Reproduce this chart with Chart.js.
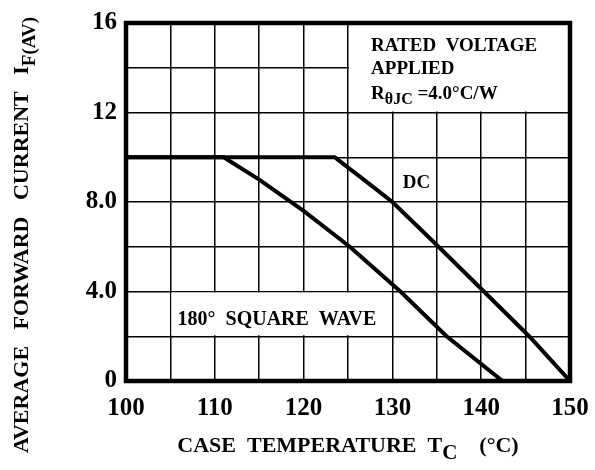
<!DOCTYPE html>
<html><head><meta charset="utf-8">
<script src="https://cdn.jsdelivr.net/npm/chart.js@4.4.1/dist/chart.umd.min.js"></script>
<style>html,body{margin:0;padding:0;background:#fff}</style>
</head><body>
<canvas id="c" width="595" height="470" style="width:595px;height:470px;display:block"></canvas>
<script>
// ---- data ----
const squareWaveT = [100, 111, 115, 120, 125.2, 130.9, 136.1, 142.4];
const squareWaveI = [10, 10, 9.0, 7.6, 6.0, 4.0, 2.0, 0];
const dcT = [100, 123.5, 127.1, 130, 135.2, 140.3, 145.4, 150];
const dcI = [10, 10, 8.9, 8.0, 6.0, 4.0, 2.0, 0];
const xTickValues = [100, 110, 120, 130, 140, 150];
const yTickValues = [0, 4, 8, 12, 16];
const yTickLabels = ['0', '4.0', '8.0', '12', '16'];

const FONT = "'Liberation Serif', 'Times New Roman', serif";

function toPoints(xs, ys) { return xs.map((x, i) => ({ x: x, y: ys[i] })); }

function drawRich(ctx, x, y, parts, align, baseline) {
  ctx.textBaseline = baseline || 'alphabetic';
  let total = 0;
  parts.forEach(p => { ctx.font = 'bold ' + p.size + 'px ' + FONT; p.w = ctx.measureText(p.t).width; total += p.w; });
  let cx = align === 'center' ? x - total / 2 : x;
  parts.forEach(p => {
    ctx.font = 'bold ' + p.size + 'px ' + FONT;
    ctx.textAlign = 'left';
    ctx.fillText(p.t, cx, y + (p.dy || 0));
    cx += p.w;
  });
}

const decor = {
  id: 'decor',
  beforeDatasetsDraw(chart) {
    const { ctx, scales: { x, y } } = chart;
    ctx.save();
    ctx.fillStyle = '#fff';
    let l = x.getPixelForValue(125) + 1, r = x.getPixelForValue(150), t = y.getPixelForValue(16), b = y.getPixelForValue(12) - 1;
    ctx.fillRect(l, t, r - l, b - t);
    l = x.getPixelForValue(105) + 1; r = x.getPixelForValue(130) - 1; t = y.getPixelForValue(4) + 1; b = y.getPixelForValue(2) - 1;
    ctx.fillRect(l, t, r - l, b - t);
    ctx.restore();
  },
  afterDatasetsDraw(chart) {
    const { ctx, chartArea: a, scales: { x, y } } = chart;
    ctx.save();
    ctx.strokeStyle = '#000';
    ctx.lineWidth = 4.5;
    ctx.strokeRect(a.left, a.top, a.right - a.left, a.bottom - a.top);
    ctx.fillStyle = '#000';
    const bx = x.getPixelForValue(127.6);
    drawRich(ctx, bx, y.getPixelForValue(14.73), [{ t: 'RATED  VOLTAGE', size: 19 }]);
    drawRich(ctx, bx, y.getPixelForValue(13.7), [{ t: 'APPLIED', size: 19 }]);
    drawRich(ctx, bx, y.getPixelForValue(12.62), [{ t: 'R', size: 19 }, { t: 'θJC', size: 16, dy: 5 }, { t: ' =4.0°C/W', size: 19 }]);
    drawRich(ctx, x.getPixelForValue(132.7), y.getPixelForValue(8.84), [{ t: 'DC', size: 19 }], 'center', 'middle');
    drawRich(ctx, x.getPixelForValue(105.8), y.getPixelForValue(2.72), [{ t: '180°  SQUARE  WAVE', size: 20 }], 'left', 'middle');
    drawRich(ctx, (a.left + a.right) / 2, 452, [{ t: 'CASE  TEMPERATURE  T', size: 22 }, { t: 'C', size: 21, dy: 7 }, { t: '    (°C)', size: 22 }], 'center');
    ctx.translate(28, chart.height / 2);
    ctx.rotate(-Math.PI / 2);
    drawRich(ctx, 0, 0, [{ t: 'AVERAGE   FORWARD   CURRENT   I', size: 22 }, { t: 'F(AV)', size: 19, dy: 7 }], 'center');
    ctx.restore();
  }
};

new Chart(document.getElementById('c'), {
  type: 'line',
  data: {
    datasets: [
      { label: '180° SQUARE WAVE', data: toPoints(squareWaveT, squareWaveI), borderColor: '#000', borderWidth: 4, pointRadius: 0, tension: 0, fill: false },
      { label: 'DC', data: toPoints(dcT, dcI), borderColor: '#000', borderWidth: 4, pointRadius: 0, tension: 0, fill: false }
    ]
  },
  options: {
    responsive: false,
    animation: false,
    devicePixelRatio: 1,
    layout: { padding: { top: 23, right: 25, left: 0, bottom: 0 } },
    plugins: { legend: { display: false }, tooltip: { enabled: false } },
    scales: {
      x: {
        type: 'linear', min: 100, max: 150,
        afterFit(s) { s.height = 89; s.paddingLeft = 0; s.paddingRight = 0; },
        grid: { color: '#000', lineWidth: 1.5, drawTicks: false },
        border: { display: false },
        ticks: { stepSize: 5, padding: 13, color: '#000', maxRotation: 0, autoSkip: false,
          font: { family: FONT, size: 25, weight: 'bold' },
          callback: v => xTickValues.includes(v) ? String(v) : '' }
      },
      y: {
        type: 'linear', min: 0, max: 16,
        afterFit(s) { s.width = 126; s.paddingTop = 0; s.paddingBottom = 0; },
        grid: { color: '#000', lineWidth: 1.5, drawTicks: false },
        border: { display: false },
        ticks: { stepSize: 2, padding: 9, color: '#000', autoSkip: false,
          font: { family: FONT, size: 25, weight: 'bold' },
          callback: v => { const i = yTickValues.indexOf(v); return i >= 0 ? yTickLabels[i] : ''; } }
      }
    }
  },
  plugins: [decor]
});
</script>
</body></html>
